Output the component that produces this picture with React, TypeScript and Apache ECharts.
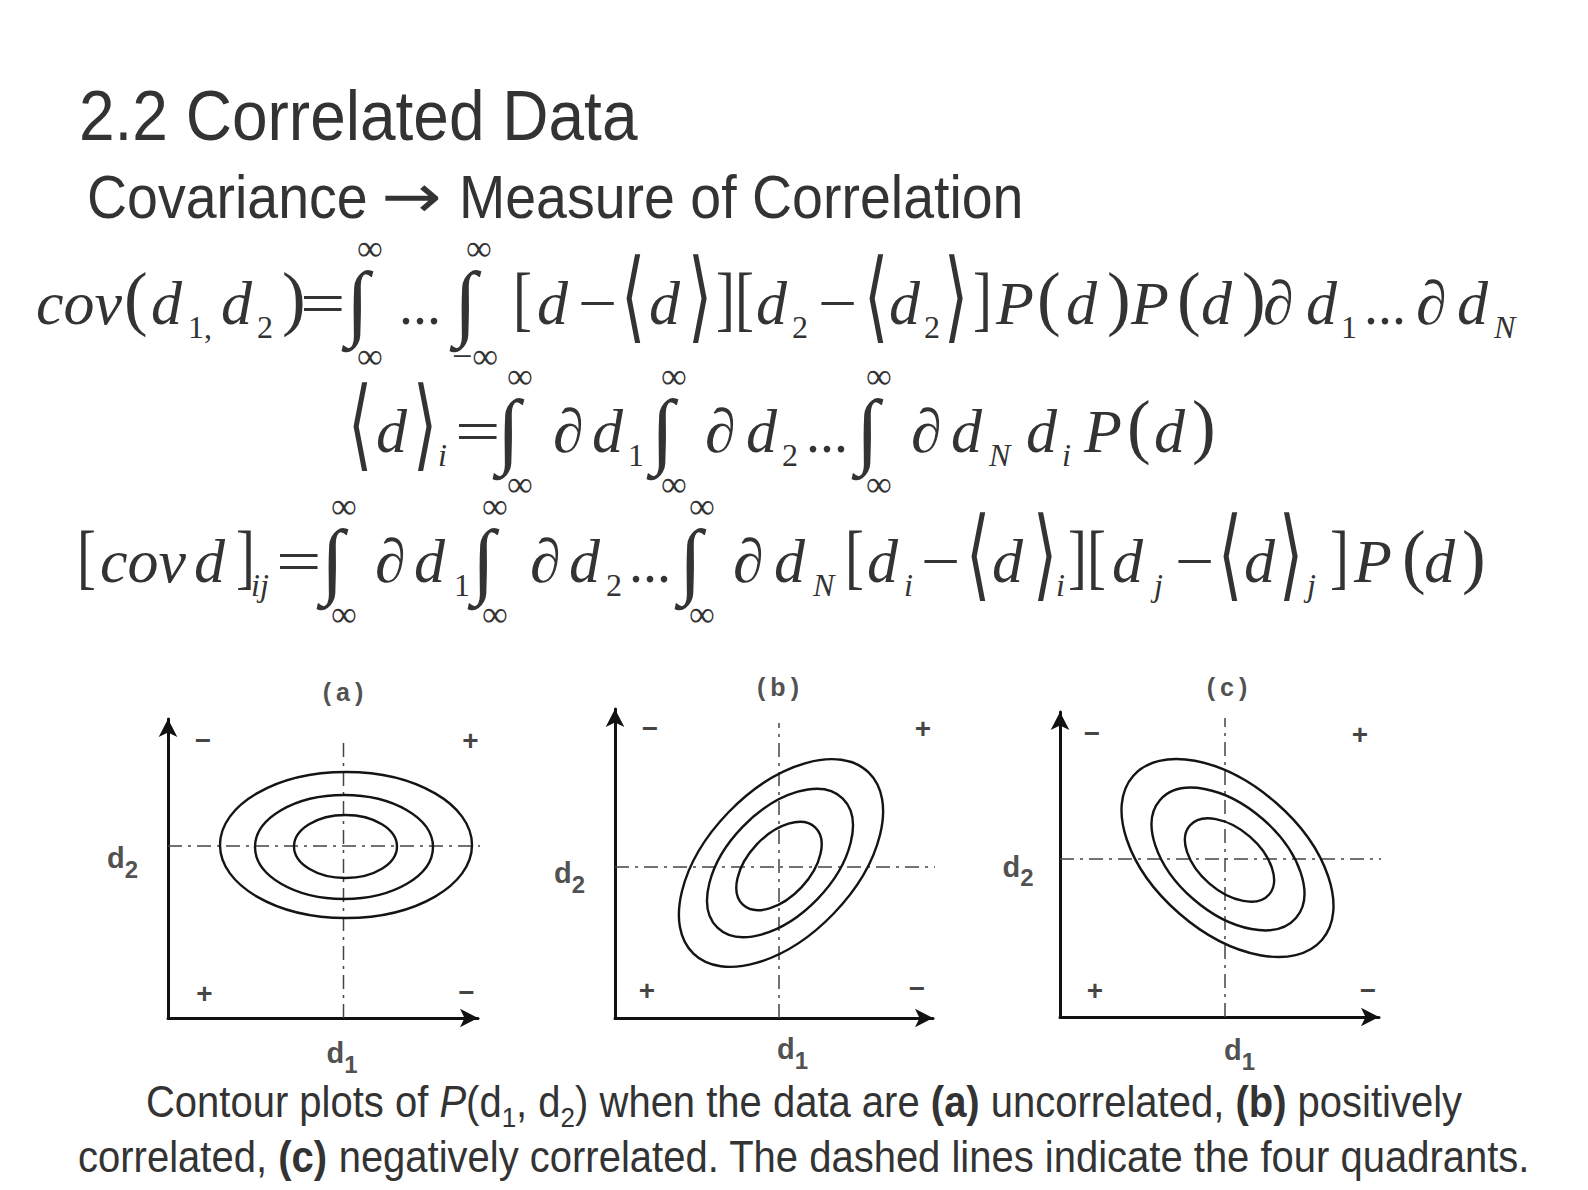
import React, { useEffect, useRef } from 'react';
import * as echarts from 'echarts';

// ---------- data (plot units: 1 unit = 10 px) ----------
const panelLabels = ['(\u2009a\u2009)', '(\u2009b\u2009)', '(\u2009c\u2009)'];
const quadrantSigns = ['\u2212', '+', '+', '\u2212'];
const signsA = [[3.5, 27.8], [30.25, 27.8], [3.65, 2.5], [29.85, 2.6]];
const signsB = [[3.5, 29.0], [30.8, 29.0], [3.2, 2.8], [30.2, 3.0]];
const signsC = [[3.2, 28.4], [30.0, 28.3], [3.5, 2.7], [30.8, 2.7]];
// crosshair: [centerX, centerY, verticalTop, horizontalRight]
const crossA = [17.55, 17.2, 27.5, 32.2];
const crossB = [16.4, 15.1, 29.5, 32.8];
const crossC = [16.5, 15.8, 29.9, 32.5];
// ellipses: [cx, cy, semiMajor, semiMinor, angleDeg]
const ellipsesA = [[17.8, 17.3, 12.6, 7.3, 0], [17.6, 17.1, 8.9, 5.2, 0], [17.75, 17.15, 5.15, 3.15, 0]];
const ellipsesB = [[16.6, 15.5, 12.6, 7.3, 46], [16.5, 15.5, 9.0, 5.2, 46], [16.4, 15.2, 5.3, 3.1, 47]];
const ellipsesC = [[16.75, 15.9, 12.5, 7.35, -41], [16.8, 15.8, 9.0, 5.3, -41], [16.95, 15.7, 5.25, 3.1, -41]];
// label anchors: [d2 x, d2 y, d1 x, d1 y, title x, title y]
const namePosA = [-4.55, 16.0, 17.4, -3.5, 17.5, 32.65];
const namePosB = [-4.55, 14.5, 17.75, -3.1, 16.3, 33.1];
const namePosC = [-4.2, 15.05, 17.95, -3.3, 16.7, 33.0];

// ---------- slide text ----------
const titleText = '2.2 Correlated Data';
const subtitleParts = ['Covariance', '\u2192', 'Measure of Correlation'];
const captionLine1 = 'Contour plots of {i|P}(d{s|1}, d{s|2}) when the data are {b|(a)} uncorrelated, {b|(b)} positively';
const captionLine2 = 'correlated, {b|(c)} negatively correlated. The dashed lines indicate the four quadrants.';

type Tok = [string, number, string];
const INF = '\u221E', MIN = '\u2212', INT = '\u222B', DEL = '\u2202', LA = '\u27E8', RA = '\u27E9';
const formula1: Tok[] = [
  ['cov', 36, 'm'], ['(', 124, 'p'], ['d', 151, 'm'], ['1,', 188, 's'], ['d', 221, 'm'], ['2', 257, 's'], [')', 282, 'p'],
  ['=', 300, 'eq'], [INT, 346, 'I'], [INF, 357, 'ia'], [INF, 357, 'ib'], ['...', 399, 'd'], [INT, 454, 'I'], [INF, 466, 'ia'],
  [MIN + INF, 452, 'ib'], ['[', 513, 'b'], ['d', 537, 'm'], [MIN, 578, 'mn'], [LA, 621, 'a'], ['d', 649, 'm'], [RA, 688, 'a'],
  ['][', 716, 'b'], ['d', 756, 'm'], ['2', 792, 's'], [MIN, 818, 'mn'], [LA, 864, 'a'], ['d', 889, 'm'],
  ['2', 924, 's'], [RA, 944, 'a'], [']', 973, 'b'], ['P', 996, 'm'], ['(', 1037, 'p'], ['d', 1066, 'm'], [')', 1107, 'p'],
  ['P', 1131, 'm'], ['(', 1177, 'p'], ['d', 1201, 'm'], [')', 1242, 'p'], [DEL, 1263, 'm'], ['d', 1306, 'm'], ['1', 1341, 's'],
  ['...', 1364, 'd'], [DEL, 1416, 'm'], ['d', 1457, 'm'], ['N', 1494, 'si'],
];
const formula2: Tok[] = [
  [LA, 348, 'a'], ['d', 376, 'm'], [RA, 413, 'a'], ['i', 438, 'si'], ['=', 455, 'eq'], [INT, 497, 'I'], [INF, 507, 'ia'],
  [INF, 507, 'ib'], [DEL, 553, 'm'], ['d', 592, 'm'], ['1', 628, 's'], [INT, 651, 'I'], [INF, 661, 'ia'], [INF, 661, 'ib'],
  [DEL, 705, 'm'], ['d', 746, 'm'], ['2', 782, 's'], ['...', 806, 'd'], [INT, 856, 'I'], [INF, 866, 'ia'], [INF, 866, 'ib'],
  [DEL, 911, 'm'], ['d', 951, 'm'], ['N', 989, 'si'], ['d', 1026, 'm'], ['i', 1062, 'si'], ['P', 1084, 'm'], ['(', 1127, 'p'],
  ['d', 1154, 'm'], [')', 1192, 'p'],
];
const formula3: Tok[] = [
  ['[', 77, 'b'], ['cov', 100, 'm'], ['d', 194, 'm'], [']', 236, 'b'], ['ij', 251, 'si'], ['=', 276, 'eq'], [INT, 321, 'I'],
  [INF, 331, 'ia'], [INF, 331, 'ib'], [DEL, 375, 'm'], ['d', 414, 'm'], ['1', 454, 's'], [INT, 472, 'I'], [INF, 482, 'ia'],
  [INF, 482, 'ib'], [DEL, 530, 'm'], ['d', 569, 'm'], ['2', 606, 's'], ['...', 629, 'd'], [INT, 679, 'I'], [INF, 689, 'ia'],
  [INF, 689, 'ib'], [DEL, 733, 'm'], ['d', 774, 'm'], ['N', 813, 'si'], ['[', 845, 'b'], ['d', 867, 'm'], ['i', 904, 'si'],
  [MIN, 921, 'mn'], [LA, 966, 'a'], ['d', 992, 'm'], [RA, 1033, 'a'], ['i', 1056, 'si'], ['][', 1068, 'b'],
  ['d', 1112, 'm'], ['j', 1154, 'si'], [MIN, 1175, 'mn'], [LA, 1218, 'a'], ['d', 1244, 'm'], [RA, 1279, 'a'], ['j', 1307, 'si'],
  [']', 1330, 'b'], ['P', 1354, 'm'], ['(', 1402, 'p'], ['d', 1424, 'm'], [')', 1462, 'p'],
];
const formulaBases = [324, 452, 582];

const SERIF = '"Liberation Serif", "Times New Roman", serif';
const SANS = '"Liberation Sans", Arial, sans-serif';
const SANS_SY = 1.09;
const INK = '#333333';

const KIND: Record<string, any> = {
  m: { size: 62, dy: 0, italic: true },
  p: { size: 71, dy: -1.5 },
  b: { size: 71, dy: -1.5, sx: 0.8 },
  eq: { size: 62, dy: 0, sx: 1.3 },
  mn: { size: 62, dy: 0, sx: 1.12 },
  a: { size: 62, dy: 5.5, sx: 1.0, sy: 1.61, family: '"DejaVu Sans", sans-serif', erode: 3.2 },
  d: { size: 56, dy: 0 },
  s: { size: 32, dy: 14 },
  si: { size: 32, dy: 14, italic: true },
  I: { size: 84, dy: 6, bold: true },
  ia: { size: 36, dy: -63.5 },
  ib: { size: 36, dy: 44 },
};

function txt(text: string, x: number, base: number, size: number, o: any = {}) {
  const align = o.align || 'left';
  const style: any = {
    text, x: 0, y: -0.34 * size,
    fontSize: size, fontFamily: o.family || SERIF,
    fontStyle: o.italic ? 'italic' : 'normal', fontWeight: o.bold ? 'bold' : 'normal',
    fill: o.color || INK, align, textAlign: align, verticalAlign: 'middle', textVerticalAlign: 'middle',
  };
  if (o.rich) style.rich = o.rich;
  if (o.erode) { style.stroke = '#ffffff'; style.lineWidth = o.erode; }
  return { type: 'text', x, y: base, scaleX: o.sx || 1, scaleY: o.sy || 1, silent: true, style };
}

function formulaElements() {
  const out: any[] = [];
  [formula1, formula2, formula3].forEach((line, li) => {
    const base = formulaBases[li];
    line.forEach(([t, x, k]) => {
      const kd = KIND[k];
      out.push(txt(t, x, base + kd.dy, kd.size, { italic: kd.italic, bold: kd.bold, family: kd.family, sx: kd.sx, sy: kd.sy, erode: kd.erode }));
    });
  });
  return out;
}

const captionRich = {
  i: { fontSize: 40, fontFamily: SANS, fontStyle: 'italic', fill: INK, color: INK, verticalAlign: 'middle' },
  s: { fontSize: 26, fontFamily: SANS, fill: INK, color: INK, padding: [28, 0, 0, 0], verticalAlign: 'middle' },
  b: { fontSize: 40, fontFamily: SANS, fontWeight: 'bold', fill: INK, color: INK, verticalAlign: 'middle' },
};

// ---------- chart layout (pixels) ----------
const panels = [
  { left: 168, bottom: 1018, xEnd: 478, yEnd: 719, signs: signsA, cross: crossA, ell: ellipsesA, names: namePosA },
  { left: 615, bottom: 1018, xEnd: 933, yEnd: 709, signs: signsB, cross: crossB, ell: ellipsesB, names: namePosB },
  { left: 1060, bottom: 1017, xEnd: 1379, yEnd: 712, signs: signsC, cross: crossC, ell: ellipsesC, names: namePosC },
];

function buildOption() {
  const grid: any[] = [], xAxis: any[] = [], yAxis: any[] = [], series: any[] = [];
  const axisLine = {
    show: true, onZero: false, symbol: ['none', 'arrow'], symbolSize: [14, 18],
    lineStyle: { color: '#111', width: 3 },
  };
  panels.forEach((p, i) => {
    const w = p.xEnd - p.left, h = p.bottom - p.yEnd;
    grid.push({ left: p.left, top: p.yEnd, width: w, height: h, containLabel: false });
    xAxis.push({ type: 'value', gridIndex: i, min: 0, max: w / 10, axisLine, axisTick: { show: false }, axisLabel: { show: false }, splitLine: { show: false } });
    yAxis.push({ type: 'value', gridIndex: i, min: 0, max: h / 10, axisLine, axisTick: { show: false }, axisLabel: { show: false }, splitLine: { show: false } });
    const dash = { color: '#444', width: 1.5, type: [14, 6, 3, 6] };
    const [cx, cy, top, right] = p.cross;
    series.push({
      type: 'line', xAxisIndex: i, yAxisIndex: i, data: [[cx, 0], [cx, top]], symbol: 'none', clip: false, silent: true,
      lineStyle: dash, z: 1,
    });
    series.push({
      type: 'line', xAxisIndex: i, yAxisIndex: i, data: [[0, cy], [right, cy]], symbol: 'none', clip: false, silent: true,
      lineStyle: dash, z: 1,
    });
    series.push({
      type: 'custom', xAxisIndex: i, yAxisIndex: i, data: p.ell, encode: { x: 0, y: 1 }, silent: true, z: 3,
      renderItem: (_params: any, api: any) => {
        const c = api.coord([api.value(0), api.value(1)]);
        const s = api.size([api.value(2), api.value(3)]);
        return {
          type: 'ellipse', x: c[0], y: c[1], rotation: (api.value(4) * Math.PI) / 180,
          shape: { cx: 0, cy: 0, rx: s[0], ry: s[1] },
          style: { fill: 'none', stroke: '#141414', lineWidth: 2.4 },
        };
      },
    });
    series.push({
      type: 'scatter', xAxisIndex: i, yAxisIndex: i, symbolSize: 1, clip: false, silent: true,
      itemStyle: { color: 'rgba(0,0,0,0)' },
      data: p.signs.map((v, j) => ({ value: v, name: quadrantSigns[j] })),
      label: { show: true, position: 'inside', formatter: '{b}', fontSize: 28, fontWeight: 'bold', color: '#111', fontFamily: SANS },
    });
    const nm = p.names;
    const richD = {
      d: { fontSize: 29, fontWeight: 'bold', color: '#222', fontFamily: SANS, verticalAlign: 'middle' },
      s: { fontSize: 24, fontWeight: 'bold', color: '#222', fontFamily: SANS, padding: [22, 0, 0, 0], verticalAlign: 'middle' },
    };
    series.push({
      type: 'scatter', xAxisIndex: i, yAxisIndex: i, symbolSize: 1, clip: false, silent: true,
      itemStyle: { color: 'rgba(0,0,0,0)' },
      data: [
        { value: [nm[0], nm[1]], label: { show: true, position: 'inside', formatter: '{d|d}{s|2}', rich: richD } },
        { value: [nm[2], nm[3]], label: { show: true, position: 'inside', formatter: '{d|d}{s|1}', rich: richD } },
        { value: [nm[4], nm[5]], label: { show: true, position: 'inside', formatter: panelLabels[i], fontSize: 25, fontWeight: 'bold', color: '#222', fontFamily: SANS } },
      ],
    });
  });

  const elements: any[] = [
    txt(titleText, 79, 139, 64, { family: SANS, sy: SANS_SY }),
    txt(subtitleParts[0], 87, 217, 55.5, { family: SANS, sy: SANS_SY }),
    txt(subtitleParts[1], 381, 217, 55.5, { family: '"DejaVu Sans", sans-serif', sy: SANS_SY, sx: 1.3 }),
    txt(subtitleParts[2], 459, 217, 55.5, { family: SANS, sy: SANS_SY }),
    ...formulaElements(),
    txt(captionLine1, 804, 1117, 40, { family: SANS, align: 'center', rich: captionRich, sy: SANS_SY }),
    txt(captionLine2, 804, 1172, 40, { family: SANS, align: 'center', rich: captionRich, sy: SANS_SY }),
  ];

  return {
    animation: false,
    backgroundColor: '#ffffff',
    grid, xAxis, yAxis, series,
    graphic: { elements },
  };
}

export default function App() {
  const ref = useRef<HTMLDivElement>(null);
  useEffect(() => {
    if (!ref.current) return;
    const chart = echarts.init(ref.current, undefined, { renderer: 'svg' });
    chart.setOption(buildOption() as any);
    return () => chart.dispose();
  }, []);
  return <div ref={ref} style={{ position: 'absolute', left: 0, top: 0, width: 1588, height: 1190, background: '#fff' }} />;
}
